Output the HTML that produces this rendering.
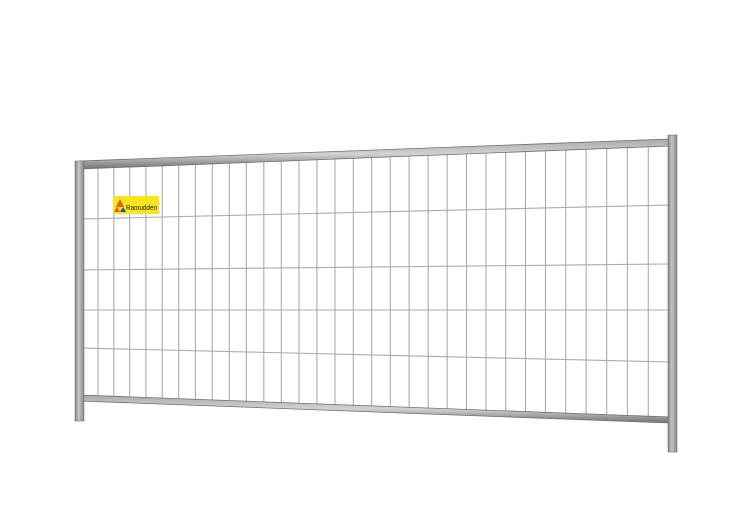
<!DOCTYPE html>
<html><head><meta charset="utf-8"><style>
html,body{margin:0;padding:0;background:#fff;width:750px;height:527px;overflow:hidden}
</style></head><body>
<svg width="750" height="527" viewBox="0 0 750 527" xmlns="http://www.w3.org/2000/svg">
<defs>
<clipPath id="m"><polygon points="84,165 670,143 670,420 84,398"/></clipPath>
<linearGradient id="pv" x1="0" x2="1" y1="0" y2="0">
<stop offset="0" stop-color="#7d7f82"/><stop offset="0.4" stop-color="#c4c6c8"/><stop offset="1" stop-color="#85878a"/></linearGradient>
<linearGradient id="rh" x1="0" x2="0" y1="0" y2="1">
<stop offset="0" stop-color="#a8aaac"/><stop offset="0.5" stop-color="#d0d2d3"/><stop offset="1" stop-color="#6f7173"/></linearGradient>
</defs>
<g clip-path="url(#m)" stroke="#a9abad" stroke-width="1.1" fill="none">
<line x1="98" y1="130" x2="98" y2="430"/><line x1="113.8" y1="130" x2="113.8" y2="430"/>
<line x1="129.7" y1="130" x2="129.7" y2="430"/><line x1="145.9" y1="130" x2="145.9" y2="430"/>
<line x1="162.2" y1="130" x2="162.2" y2="430"/><line x1="178.7" y1="130" x2="178.7" y2="430"/>
<line x1="195.4" y1="130" x2="195.4" y2="430"/><line x1="212.2" y1="130" x2="212.2" y2="430"/>
<line x1="229.3" y1="130" x2="229.3" y2="430"/><line x1="246.4" y1="130" x2="246.4" y2="430"/>
<line x1="263.8" y1="130" x2="263.8" y2="430"/><line x1="281.3" y1="130" x2="281.3" y2="430"/>
<line x1="299" y1="130" x2="299" y2="430"/><line x1="316.9" y1="130" x2="316.9" y2="430"/>
<line x1="335" y1="130" x2="335" y2="430"/><line x1="353.3" y1="130" x2="353.3" y2="430"/>
<line x1="371.7" y1="130" x2="371.7" y2="430"/><line x1="390.3" y1="130" x2="390.3" y2="430"/>
<line x1="409.1" y1="130" x2="409.1" y2="430"/><line x1="428.1" y1="130" x2="428.1" y2="430"/>
<line x1="447.2" y1="130" x2="447.2" y2="430"/><line x1="466.5" y1="130" x2="466.5" y2="430"/>
<line x1="486" y1="130" x2="486" y2="430"/><line x1="505.7" y1="130" x2="505.7" y2="430"/>
<line x1="525.5" y1="130" x2="525.5" y2="430"/><line x1="545.5" y1="130" x2="545.5" y2="430"/>
<line x1="565.7" y1="130" x2="565.7" y2="430"/><line x1="586.1" y1="130" x2="586.1" y2="430"/>
<line x1="606.7" y1="130" x2="606.7" y2="430"/><line x1="627.4" y1="130" x2="627.4" y2="430"/>
<line x1="648.3" y1="130" x2="648.3" y2="430"/>
<line x1="80" y1="219" x2="670" y2="205"/>
<line x1="80" y1="270" x2="670" y2="264"/>
<line x1="80" y1="310" x2="670" y2="310"/>
<line x1="80" y1="348" x2="670" y2="362"/>
</g>
<polygon points="80,161 670,139 670,146 80,169" fill="url(#rh)" stroke="#6e7072" stroke-width="0.8"/>
<polygon points="80,395 670,417 670,423 80,401" fill="url(#rh)" stroke="#6e7072" stroke-width="0.8"/>
<rect x="75" y="161" width="9" height="260" fill="url(#pv)" stroke="#747679" stroke-width="0.6"/>
<rect x="668" y="135" width="9" height="317" fill="url(#pv)" stroke="#747679" stroke-width="0.6"/>
<rect x="113" y="196" width="46" height="18" fill="#f7e51e"/>
<polygon points="120,199 116,207 124,207" fill="#e5592a"/>
<polygon points="117,207 114,212 120,212" fill="#e5592a"/>
<polygon points="123,207 120,212 126,212" fill="#2c4aa0"/>
<text x="126" y="210" font-family="Liberation Sans, sans-serif" font-size="7" fill="#222" textLength="31" lengthAdjust="spacingAndGlyphs">Ramudden</text>
</svg>
</body></html>
